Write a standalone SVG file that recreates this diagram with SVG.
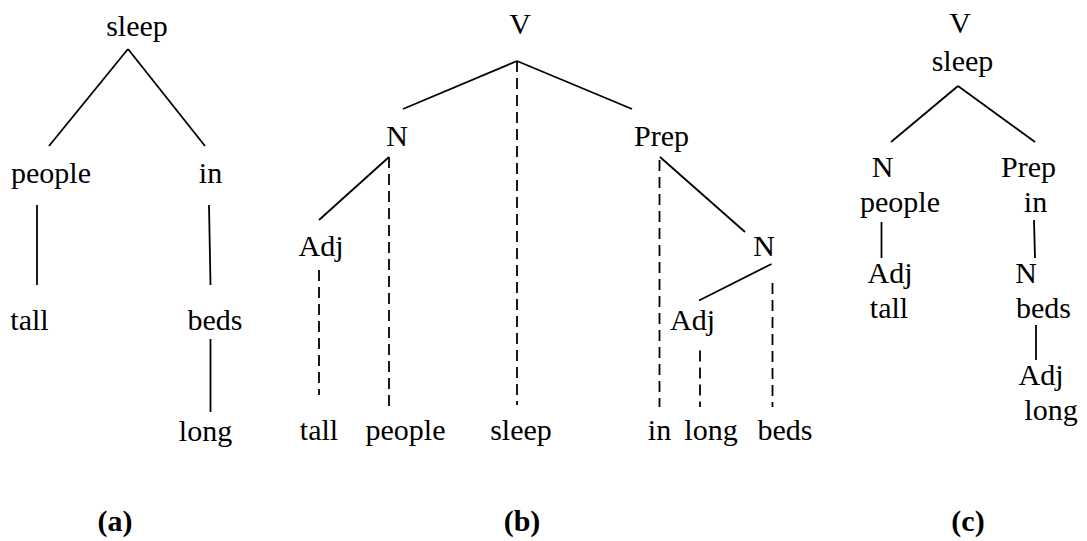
<svg xmlns="http://www.w3.org/2000/svg" width="1087" height="541" viewBox="0 0 1087 541" font-family="Liberation Serif, DejaVu Serif, serif">
<style>
text{font-size:30px;fill:#000;text-anchor:middle}
.lbl{font-weight:bold}
.s{stroke:#000;stroke-width:1.8;fill:none}
.d{stroke:#000;stroke-width:1.8;fill:none;stroke-dasharray:11 6}
</style>
<rect width="1087" height="541" fill="#fff"/>
<g id="connectors">
<line class="s" x1="128" y1="49" x2="49" y2="146"/>
<line class="s" x1="128" y1="49" x2="205" y2="146"/>
<line class="s" x1="37" y1="205" x2="37" y2="285"/>
<line class="s" x1="209" y1="205" x2="210.5" y2="285"/>
<line class="s" x1="210.5" y1="339" x2="210.5" y2="412"/>
<line class="s" x1="517" y1="61" x2="403" y2="109"/>
<line class="s" x1="517" y1="61" x2="632" y2="109"/>
<line class="s" x1="389" y1="157" x2="319" y2="220"/>
<line class="s" x1="660" y1="157" x2="745" y2="232"/>
<line class="s" x1="771.5" y1="264" x2="699" y2="300.5"/>
<line class="d" x1="517" y1="61" x2="517" y2="405"/>
<line class="d" x1="389" y1="157" x2="389" y2="408"/>
<line class="d" x1="319" y1="270" x2="319" y2="395"/>
<line class="d" x1="659.5" y1="160" x2="659.5" y2="407"/>
<line class="d" x1="772.5" y1="283" x2="772.5" y2="407"/>
<line class="d" x1="700" y1="350.5" x2="700" y2="407"/>
<line class="s" x1="958" y1="86" x2="891" y2="142"/>
<line class="s" x1="958" y1="86" x2="1035" y2="142"/>
<line class="s" x1="881.5" y1="222" x2="881.5" y2="258"/>
<line class="s" x1="1034" y1="220" x2="1035" y2="258"/>
<line class="s" x1="1036" y1="325" x2="1036" y2="360"/>
</g>
<g id="a-sleep"><text x="137" y="36">sleep</text></g>
<g id="a-people"><text x="51" y="183">people</text></g>
<g id="a-in"><text x="210.5" y="183">in</text></g>
<g id="a-tall"><text x="29.5" y="330">tall</text></g>
<g id="a-beds"><text x="215" y="330">beds</text></g>
<g id="a-long"><text x="205.5" y="441">long</text></g>
<g id="a-label"><text class="lbl" x="115" y="531">(a)</text></g>
<g id="b-V"><text x="520" y="34">V</text></g>
<g id="b-N"><text x="397" y="146">N</text></g>
<g id="b-Prep"><text x="661.5" y="146">Prep</text></g>
<g id="b-Adj1"><text x="321" y="256">Adj</text></g>
<g id="b-N2"><text x="764" y="256">N</text></g>
<g id="b-Adj2"><text x="692.5" y="330">Adj</text></g>
<g id="b-tall"><text x="319" y="440">tall</text></g>
<g id="b-people"><text x="405.5" y="440">people</text></g>
<g id="b-sleep"><text x="521" y="440">sleep</text></g>
<g id="b-in"><text x="659.5" y="440">in</text></g>
<g id="b-long"><text x="711" y="440">long</text></g>
<g id="b-beds"><text x="785" y="440">beds</text></g>
<g id="b-label"><text class="lbl" x="522" y="531">(b)</text></g>
<g id="c-root"><text x="960" y="33">V</text><text x="962.5" y="71">sleep</text></g>
<g id="c-people"><text x="882.5" y="177">N</text><text x="900" y="212">people</text></g>
<g id="c-in"><text x="1028.5" y="177">Prep</text><text x="1035.5" y="212">in</text></g>
<g id="c-tall"><text x="890" y="283">Adj</text><text x="889" y="318">tall</text></g>
<g id="c-beds"><text x="1026" y="283">N</text><text x="1043.5" y="318">beds</text></g>
<g id="c-long"><text x="1041" y="385">Adj</text><text x="1051" y="420">long</text></g>
<g id="c-label"><text class="lbl" x="968" y="531">(c)</text></g>
</svg>
